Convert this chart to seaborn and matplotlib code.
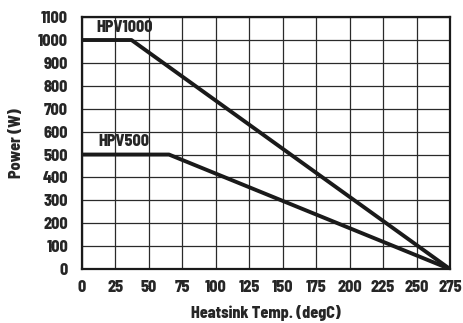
import matplotlib
matplotlib.use("Agg")
import matplotlib.pyplot as plt
import seaborn as sns
import pandas as pd

series_names = ["HPV1000", "HPV500"]
hpv1000_temp = [0, 37, 275]
hpv1000_power = [1000, 1000, 0]
hpv500_temp = [0, 65, 275]
hpv500_power = [500, 500, 0]
x_ticks = [0, 25, 50, 75, 100, 125, 150, 175, 200, 225, 250, 275]
y_ticks = [0, 100, 200, 300, 400, 500, 600, 700, 800, 900, 1000, 1100]

df = pd.concat([
    pd.DataFrame({"temp": hpv1000_temp, "power": hpv1000_power, "series": series_names[0]}),
    pd.DataFrame({"temp": hpv500_temp, "power": hpv500_power, "series": series_names[1]}),
])

sns.set_style("white")
plt.rcParams['font.family'] = ['Barlow Semi Condensed', 'DejaVu Sans']
FW = 800
FS = 11.5

fig = plt.figure(figsize=(4.64, 3.23), dpi=100)
ax = fig.add_axes([0.1767, 0.167, 0.7931, 0.78])

sns.lineplot(data=df, x="temp", y="power", hue="series", estimator=None, sort=False,
             palette=["#1a1a1a", "#1a1a1a"], linewidth=2.8, legend=False, ax=ax, zorder=3)

ax.set_xlim(0, 275)
ax.set_ylim(0, 1100)
ax.set_xticks(x_ticks)
ax.set_yticks(y_ticks)
ax.set_xticklabels([str(t) for t in x_ticks], fontsize=FS, fontweight=FW)
ax.set_yticklabels([str(t) for t in y_ticks], fontsize=FS, fontweight=FW)
ax.grid(True, color="#2a2a2a", linewidth=0.9)
ax.tick_params(axis='y', length=0, pad=10)
ax.tick_params(axis='x', length=0, pad=8)
for s in ax.spines.values():
    s.set_color("#1a1a1a")
    s.set_linewidth(1.6)

ax.set_xlabel("Heatsink Temp. (degC)", fontsize=FS, fontweight=FW, labelpad=7)
ax.set_ylabel("Power (W)", fontsize=FS, fontweight=FW, labelpad=10)

ax.text(11, 1035, series_names[0], fontsize=FS, fontweight=FW, ha='left', va='baseline')
ax.text(12, 537, series_names[1], fontsize=FS, fontweight=FW, ha='left', va='baseline')

fig.savefig("out.png", dpi=100)
